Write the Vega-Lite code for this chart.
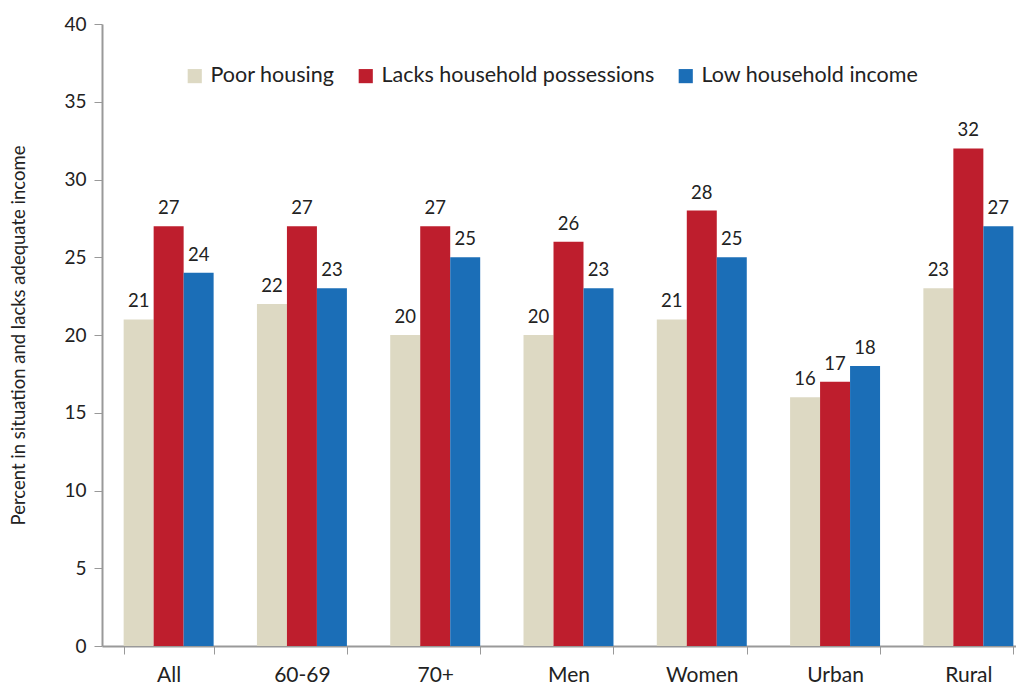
{
  "$schema": "https://vega.github.io/schema/vega-lite/v6.json",
  "autosize": {"type": "none"},
  "padding": {"left": 102, "top": 24, "right": -19, "bottom": 38},
  "width": 933,
  "height": 622,
  "background": "white",
  "config": {
    "font": "Lato",
    "view": {"stroke": null}
  },
  "data": {
    "values": [
      {"group": "All", "series": "Poor housing", "value": 21},
      {"group": "All", "series": "Lacks household possessions", "value": 27},
      {"group": "All", "series": "Low household income", "value": 24},
      {"group": "60-69", "series": "Poor housing", "value": 22},
      {"group": "60-69", "series": "Lacks household possessions", "value": 27},
      {"group": "60-69", "series": "Low household income", "value": 23},
      {"group": "70+", "series": "Poor housing", "value": 20},
      {"group": "70+", "series": "Lacks household possessions", "value": 27},
      {"group": "70+", "series": "Low household income", "value": 25},
      {"group": "Men", "series": "Poor housing", "value": 20},
      {"group": "Men", "series": "Lacks household possessions", "value": 26},
      {"group": "Men", "series": "Low household income", "value": 23},
      {"group": "Women", "series": "Poor housing", "value": 21},
      {"group": "Women", "series": "Lacks household possessions", "value": 28},
      {"group": "Women", "series": "Low household income", "value": 25},
      {"group": "Urban", "series": "Poor housing", "value": 16},
      {"group": "Urban", "series": "Lacks household possessions", "value": 17},
      {"group": "Urban", "series": "Low household income", "value": 18},
      {"group": "Rural", "series": "Poor housing", "value": 23},
      {"group": "Rural", "series": "Lacks household possessions", "value": 32},
      {"group": "Rural", "series": "Low household income", "value": 27}
    ]
  },
  "encoding": {
    "x": {
      "field": "group",
      "type": "nominal",
      "sort": ["All", "60-69", "70+", "Men", "Women", "Urban", "Rural"],
      "scale": {"paddingInner": 0.325, "paddingOuter": 0.1625},
      "axis": {
        "title": null,
        "labelAngle": 0,
        "labelFontSize": 21,
        "labelColor": "#222222",
        "labelPadding": 10,
        "tickBand": "extent",
        "tickSize": 8,
        "tickColor": "#999999",
        "domainColor": "#999999",
        "domainWidth": 2,
        "grid": false
      }
    },
    "xOffset": {
      "field": "series",
      "type": "nominal",
      "sort": ["Poor housing", "Lacks household possessions", "Low household income"]
    },
    "y": {
      "field": "value",
      "type": "quantitative",
      "scale": {"domain": [0, 40]},
      "axis": {
        "title": "Percent in situation and lacks adequate income",
        "titleFontSize": 18.5,
        "titleFontWeight": "normal",
        "titleColor": "#222222",
        "titlePadding": 35,
        "values": [0, 5, 10, 15, 20, 25, 30, 35, 40],
        "labelFontSize": 19,
        "labelColor": "#222222",
        "labelPadding": 8,
        "tickSize": 8,
        "tickColor": "#999999",
        "domainColor": "#999999",
        "domainWidth": 2,
        "grid": false
      }
    }
  },
  "layer": [
    {
      "mark": {"type": "bar"},
      "encoding": {
        "color": {
          "field": "series",
          "type": "nominal",
          "sort": ["Poor housing", "Lacks household possessions", "Low household income"],
          "scale": {
            "domain": ["Poor housing", "Lacks household possessions", "Low household income"],
            "range": ["#DDD9C3", "#BE1E2D", "#1B6EB7"]
          },
          "legend": {
            "title": null,
            "orient": "none",
            "legendX": 82,
            "legendY": 41,
            "direction": "horizontal",
            "columns": 3,
            "symbolType": "square",
            "symbolSize": 200,
            "symbolStrokeWidth": 0,
            "labelFontSize": 21.5,
            "labelColor": "#222222",
            "labelOffset": 5,
            "columnPadding": 20,
            "labelLimit": 400
          }
        }
      }
    },
    {
      "mark": {"type": "text", "baseline": "bottom", "dy": -8, "fontSize": 18.5, "color": "#222222"},
      "encoding": {
        "text": {"field": "value", "type": "quantitative"}
      }
    }
  ]
}
